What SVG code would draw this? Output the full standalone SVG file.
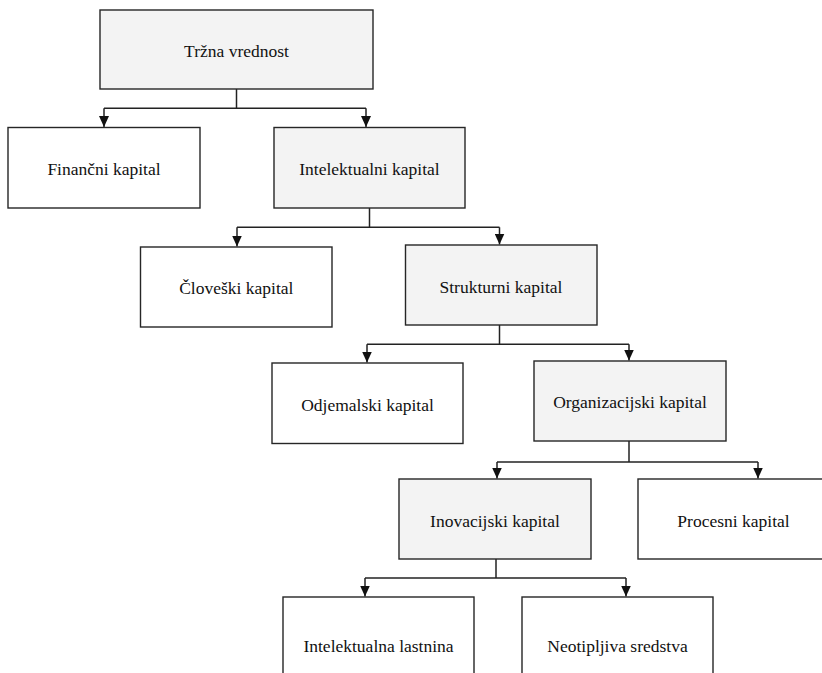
<svg xmlns="http://www.w3.org/2000/svg" width="822" height="673" viewBox="0 0 822 673">
  <style>
    .box { stroke: #262626; stroke-width: 1.4; }
    .hi { fill: #f3f3f3; }
    .lo { fill: #ffffff; }
    .lbl { font-family: "Liberation Serif", "Times New Roman", serif; font-size: 17.5px; fill: #111; text-anchor: middle; }
    .wire { fill: none; stroke: #222; stroke-width: 1.5; }
  </style>
  <defs>
    <marker id="tip" viewBox="0 0 11 10" refX="11" refY="5" markerWidth="11" markerHeight="10" markerUnits="userSpaceOnUse" orient="auto">
      <path d="M0,0 L11,5 L0,10 Z" fill="#111"/>
    </marker>
  </defs>
  <rect width="822" height="673" fill="#ffffff"/>

  <g id="connectors">
    <!-- level 1 -->
    <path class="wire" d="M236.5,89 V108.3"/>
    <path class="wire" d="M104,108.3 H366"/>
    <path class="wire" d="M104,108.3 V127" marker-end="url(#tip)"/>
    <path class="wire" d="M366,108.3 V127" marker-end="url(#tip)"/>
    <!-- level 2 -->
    <path class="wire" d="M369.5,208 V227.3"/>
    <path class="wire" d="M237,227.3 H499.5"/>
    <path class="wire" d="M237,227.3 V246.5" marker-end="url(#tip)"/>
    <path class="wire" d="M499.5,227.3 V244.5" marker-end="url(#tip)"/>
    <!-- level 3 -->
    <path class="wire" d="M499.5,325 V344.3"/>
    <path class="wire" d="M367,344.3 H629"/>
    <path class="wire" d="M367,344.3 V362.5" marker-end="url(#tip)"/>
    <path class="wire" d="M629,344.3 V360.5" marker-end="url(#tip)"/>
    <!-- level 4 -->
    <path class="wire" d="M629,441 V462"/>
    <path class="wire" d="M497,462 H758"/>
    <path class="wire" d="M497,462 V478.5" marker-end="url(#tip)"/>
    <path class="wire" d="M758,462 V478.5" marker-end="url(#tip)"/>
    <!-- level 5 -->
    <path class="wire" d="M496,559 V578"/>
    <path class="wire" d="M365,578 H626"/>
    <path class="wire" d="M365,578 V596.5" marker-end="url(#tip)"/>
    <path class="wire" d="M626,578 V596.5" marker-end="url(#tip)"/>
  </g>

  <g id="trzna-vrednost">
    <rect class="box hi" x="100" y="10" width="273" height="79"/>
    <text class="lbl" x="236.5" y="57">Tržna vrednost</text>
  </g>
  <g id="financni-kapital">
    <rect class="box lo" x="8" y="127.5" width="192" height="80.5"/>
    <text class="lbl" x="104" y="174.5">Finančni kapital</text>
  </g>
  <g id="intelektualni-kapital">
    <rect class="box hi" x="274" y="127.5" width="191" height="80.5"/>
    <text class="lbl" x="369.5" y="174.5">Intelektualni kapital</text>
  </g>
  <g id="cloveski-kapital">
    <rect class="box lo" x="140.5" y="247" width="191.5" height="80"/>
    <text class="lbl" x="236.3" y="294">Človeški kapital</text>
  </g>
  <g id="strukturni-kapital">
    <rect class="box hi" x="405.5" y="245" width="191.5" height="80"/>
    <text class="lbl" x="501" y="292.5">Strukturni kapital</text>
  </g>
  <g id="odjemalski-kapital">
    <rect class="box lo" x="272" y="363" width="191" height="80.5"/>
    <text class="lbl" x="367.5" y="410.5">Odjemalski kapital</text>
  </g>
  <g id="organizacijski-kapital">
    <rect class="box hi" x="534" y="361" width="192" height="80"/>
    <text class="lbl" x="630" y="408.3">Organizacijski kapital</text>
  </g>
  <g id="inovacijski-kapital">
    <rect class="box hi" x="399" y="479" width="192" height="80"/>
    <text class="lbl" x="495" y="526.5">Inovacijski kapital</text>
  </g>
  <g id="procesni-kapital">
    <rect class="box lo" x="638" y="479" width="192" height="80"/>
    <text class="lbl" x="733.5" y="526.5">Procesni kapital</text>
  </g>
  <g id="intelektualna-lastnina">
    <rect class="box lo" x="283" y="597" width="191" height="100"/>
    <text class="lbl" x="378.5" y="651.5">Intelektualna lastnina</text>
  </g>
  <g id="neotipljiva-sredstva">
    <rect class="box lo" x="522" y="597" width="191" height="100"/>
    <text class="lbl" x="617.5" y="651.5">Neotipljiva sredstva</text>
  </g>
</svg>
